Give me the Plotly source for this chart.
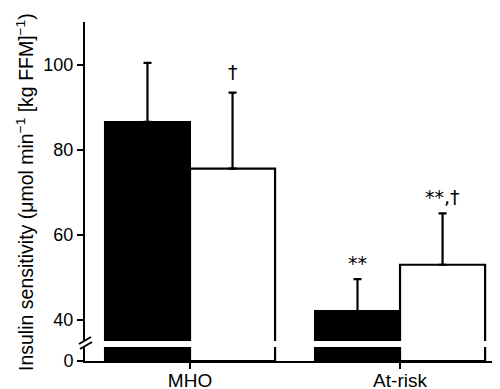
import plotly.graph_objects as go

categories = ["MHO", "At-risk"]
black_means = [86.6, 42.1]
black_sd = [13.9, 7.5]
white_means = [75.6, 53.0]
white_sd = [17.9, 12.1]
black_labels = ["", "**"]
white_labels = ["†", "**,†"]

FONT = "Liberation Sans, Arial, sans-serif"
ANN_FONT = "DejaVu Sans, sans-serif"
# page has an 8px body margin; lay out in page pixels
OFF = 8
W, H = 500 - OFF, 389 - OFF
PL, PT, PB = 85, 22, 361          # plot area in page pixels
L, T, B, R = PL - OFF, PT - OFF, (H + OFF) - PB, 0
plot_h = PB - PT
plot_w = 500 - PL

def py(p):  # page pixel y -> paper
    return (PB - p) / plot_h

def px(p):
    return (p - PL) / plot_w

upper_dom = [py(341), 1.0]
lower_dom = [0.0, py(347)]

fig = go.Figure()
for yaxis, err in (("y", True), ("y2", False)):
    fig.add_trace(go.Bar(
        x=categories, y=black_means, yaxis=yaxis, xaxis="x",
        marker=dict(color="black", line=dict(color="black", width=2)),
        error_y=dict(type="data", array=black_sd, arrayminus=[0, 0], symmetric=False,
                     color="black", thickness=2.2, width=4, visible=err),
        offsetgroup="a", showlegend=False, hoverinfo="skip"))
    fig.add_trace(go.Bar(
        x=categories, y=white_means, yaxis=yaxis, xaxis="x",
        marker=dict(color="white", line=dict(color="black", width=2.2)),
        error_y=dict(type="data", array=white_sd, arrayminus=[0, 0], symmetric=False,
                     color="black", thickness=2.2, width=4, visible=err),
        offsetgroup="b", showlegend=False, hoverinfo="skip"))

annotations = []
half = 0.2025
for i in range(len(categories)):
    for off, means, sds, labs in ((-half, black_means, black_sd, black_labels),
                                  (half, white_means, white_sd, white_labels)):
        lab = labs[i]
        if lab:
            shift = 8 if lab == "†" else 3
            annotations.append(dict(
                x=i + off, y=means[i] + sds[i], xref="x", yref="y",
                text=lab, showarrow=False, yanchor="bottom", yshift=shift,
                font=dict(family=ANN_FONT, size=19, color="black")))

annotations.append(dict(
    x=px(25), y=py(192), xref="paper", yref="paper",
    text="Insulin sensitivity (μmol min<sup>−1</sup> [kg FFM]<sup>−1</sup>)",
    textangle=-90, showarrow=False, xanchor="center", yanchor="middle",
    font=dict(family=FONT, size=19.5, color="black")))

shapes = []
for (x0, y0, x1, y1) in ((79, 344, 91, 337), (80, 349, 92, 342)):
    shapes.append(dict(type="line", xref="paper", yref="paper",
                       x0=px(x0), y0=py(y0), x1=px(x1), y1=py(y1),
                       line=dict(color="black", width=2)))

axis_common = dict(showline=True, linecolor="black", linewidth=2, ticks="outside",
                   ticklen=6, tickwidth=2, tickcolor="black", showgrid=False,
                   zeroline=False, automargin=False,
                   tickfont=dict(family=FONT, size=18, color="black"))

fig.update_layout(
    width=W, height=H,
    margin=dict(l=L, r=R, t=T, b=B, pad=0, autoexpand=False),
    paper_bgcolor="white", plot_bgcolor="white",
    barmode="group", bargap=0.19, bargroupgap=0,
    font=dict(family=FONT, size=18, color="black"),
    xaxis=dict(type="category", range=[-0.5, 1.476], anchor="y2", ticklabelstandoff=-5,
               **{**axis_common, "tickfont": dict(family=FONT, size=19, color="black")}),
    yaxis=dict(domain=upper_dom, range=[35.06, 110.1], tickvals=[40, 60, 80, 100],
               anchor="x", **axis_common),
    yaxis2=dict(domain=lower_dom, range=[0, 4], tickvals=[0], anchor="x", **axis_common),
    annotations=annotations, shapes=shapes,
)

fig.write_html("out.html")
